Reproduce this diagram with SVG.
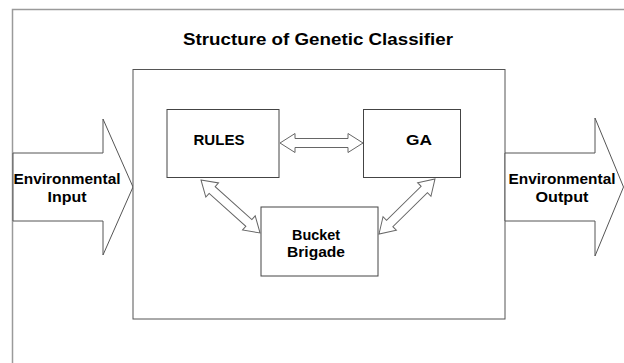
<svg xmlns="http://www.w3.org/2000/svg" width="624" height="363" viewBox="0 0 624 363">
<defs>
<style>
.lbl{font-family:"Liberation Sans",Arial,sans-serif;font-weight:bold;font-size:14.5px;fill:#000;text-anchor:middle}
.ttl{font-family:"Liberation Sans",Arial,sans-serif;font-weight:bold;font-size:16.5px;fill:#000;text-anchor:middle}
.box{fill:#fff;stroke:#444;stroke-width:1}
.big{fill:#fff;stroke:#555;stroke-width:1}
.dbl{fill:#fff;stroke:#666;stroke-width:1}
</style>
</defs>
<rect width="624" height="363" fill="#fff"/>
<path d="M12.5,363 V9.5 H624" fill="none" stroke="#9a9a9a" stroke-width="1.5"/>
<text class="ttl" x="318" y="45" textLength="270" lengthAdjust="spacingAndGlyphs">Structure of Genetic Classifier</text>

<g id="input-arrow">
<polygon class="big" points="13,153 103,153 103,119 133,187 103,255 103,221 13,221"/>
<text class="lbl" x="67" y="184" textLength="107" lengthAdjust="spacingAndGlyphs">Environmental</text>
<text class="lbl" x="67" y="202" textLength="39" lengthAdjust="spacingAndGlyphs">Input</text>
</g>

<g id="classifier">
<rect x="133" y="69.5" width="372" height="249.5" fill="#fff" stroke="#555" stroke-width="1"/>
</g>

<g id="output-arrow">
<polygon class="big" points="505,153 595,153 595,118 623.5,187 595,256 595,221 505,221"/>
<text class="lbl" x="562" y="184" textLength="107" lengthAdjust="spacingAndGlyphs">Environmental</text>
<text class="lbl" x="562" y="202" textLength="53" lengthAdjust="spacingAndGlyphs">Output</text>
</g>

<g id="rules">
<rect class="box" x="167" y="109.5" width="112" height="68"/>
<text class="lbl" x="219" y="145" textLength="51" lengthAdjust="spacingAndGlyphs">RULES</text>
</g>

<g id="ga">
<rect class="box" x="363.5" y="109.5" width="97" height="68"/>
<text class="lbl" x="419" y="145" textLength="26" lengthAdjust="spacingAndGlyphs">GA</text>
</g>

<g id="bucket-brigade">
<rect class="box" x="261" y="207" width="117" height="69"/>
<text class="lbl" x="316" y="240" textLength="48" lengthAdjust="spacingAndGlyphs">Bucket</text>
<text class="lbl" x="316" y="257" textLength="58" lengthAdjust="spacingAndGlyphs">Brigade</text>
</g>

<g id="connectors">
<polygon class="dbl" points="280,143 295,133.5 295,138.5 348,138.5 348,133.5 363,143 348,152.5 348,147.5 295,147.5 295,152.5"/>
<polygon class="dbl" transform="translate(201,180) rotate(41.9)" points="0,0 15,-9.5 15,-4.5 64.3,-4.5 64.3,-9.5 79.3,0 64.3,9.5 64.3,4.5 15,4.5 15,9.5"/>
<polygon class="dbl" transform="translate(379,234) rotate(-44.5)" points="0,0 15,-9.5 15,-4.5 63.5,-4.5 63.5,-9.5 78.5,0 63.5,9.5 63.5,4.5 15,4.5 15,9.5"/>
</g>
</svg>
